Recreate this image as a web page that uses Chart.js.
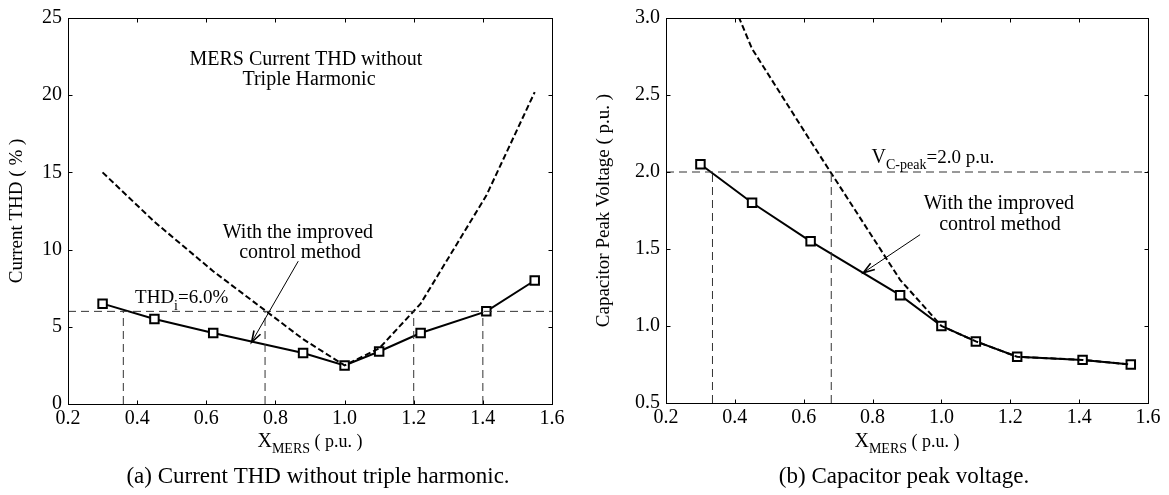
<!DOCTYPE html>
<html lang="en">
<head>
<meta charset="UTF-8">
<title>MERS current THD and capacitor peak voltage</title>
<script src="https://cdn.jsdelivr.net/npm/chart.js"></script>
<style>
  body { margin: 0; background: #fff; }
  #wrapA { position: absolute; left: 0; top: 0; width: 580px; height: 495px; }
  #wrapB { position: absolute; left: 580px; top: 0; width: 589px; height: 495px; }
</style>
</head>
<body>
<div id="wrapA"><canvas id="thdChart" width="580" height="495"></canvas></div>
<div id="wrapB"><canvas id="vcChart" width="589" height="495"></canvas></div>
<script>
// X_MERS of the simulated points (p.u.)
const xMers = [0.3, 0.45, 0.62, 0.88, 1.0, 1.1, 1.22, 1.41, 1.55];

// (a) current THD in %
const thdImproved = [6.5, 5.5, 4.6, 3.3, 2.5, 3.4, 4.6, 6.0, 8.0];
const thdOriginal = [15.0, 11.8, 8.6, 4.2, 2.5, 3.6, 6.5, 13.5, 20.2];
const thdLimit = 6.0;
const thdCrossX = [0.36, 0.77, 1.2, 1.4];

// (b) capacitor peak voltage in p.u.
const vcImproved = [2.05, 1.8, 1.55, 1.2, 1.0, 0.9, 0.8, 0.78, 0.75];
const vcOriginal = [3.6, 2.8, 2.2, 1.3, 1.0, 0.9, 0.8, 0.78, 0.75];
const vcLimit = 2.0;
const vcCrossX = [0.335, 0.68];

// tick labels
const xTickLabels = ['0.2', '0.4', '0.6', '0.8', '1.0', '1.2', '1.4', '1.6'];
const thdTickLabels = ['0', '5', '10', '15', '20', '25'];
const vcTickLabels = ['0.5', '1.0', '1.5', '2.0', '2.5', '3.0'];

const serif = '"Liberation Serif", "Times New Roman", serif';

function pairs(xs, ys) {
  return xs.map((x, i) => ({ x: x, y: ys[i] }));
}

// text made of pieces, so subscripts can be written
function drawRich(ctx, parts, x, y, align) {
  let w = 0;
  parts.forEach(p => {
    ctx.font = p.size + 'px ' + serif;
    p.w = ctx.measureText(p.t).width;
    w += p.w;
  });
  let cx = align === 'center' ? x - w / 2 : x;
  ctx.textAlign = 'left';
  ctx.textBaseline = 'alphabetic';
  parts.forEach(p => {
    ctx.font = p.size + 'px ' + serif;
    ctx.fillText(p.t, cx, y + (p.dy || 0));
    cx += p.w;
  });
}

function drawArrow(ctx, x1, y1, x2, y2) {
  const ang = Math.atan2(y2 - y1, x2 - x1);
  const len = 12, spread = 0.32;
  ctx.lineWidth = 1;
  ctx.beginPath();
  ctx.moveTo(x1, y1);
  ctx.lineTo(x2, y2);
  ctx.stroke();
  ctx.lineWidth = 1.6;
  ctx.beginPath();
  ctx.moveTo(x2 - len * Math.cos(ang - spread), y2 - len * Math.sin(ang - spread));
  ctx.lineTo(x2, y2);
  ctx.lineTo(x2 - len * Math.cos(ang + spread), y2 - len * Math.sin(ang + spread));
  ctx.stroke();
}

// box, inward ticks, notes, x title and caption
const paperDeco = {
  id: 'paperDeco',
  afterDraw(chart, args, opts) {
    const { ctx, chartArea: a, scales: { x, y } } = chart;
    ctx.save();
    ctx.strokeStyle = '#000';
    ctx.fillStyle = '#000';
    ctx.lineWidth = 1;
    ctx.setLineDash([]);
    const L = Math.round(a.left) + 0.5, T = Math.round(a.top) + 0.5;
    const R = Math.round(a.right) + 0.5, B = Math.round(a.bottom) + 0.5;
    ctx.strokeRect(L, T, R - L, B - T);

    const tl = 4;
    ctx.beginPath();
    x.ticks.forEach(tk => {
      const px = Math.round(x.getPixelForValue(tk.value)) + 0.5;
      ctx.moveTo(px, B); ctx.lineTo(px, B - tl);
      ctx.moveTo(px, T); ctx.lineTo(px, T + tl);
    });
    y.ticks.forEach(tk => {
      const py = Math.round(y.getPixelForValue(tk.value)) + 0.5;
      ctx.moveTo(L, py); ctx.lineTo(L + tl, py);
      ctx.moveTo(R, py); ctx.lineTo(R - tl, py);
    });
    ctx.stroke();

    opts.notes.forEach(n => {
      drawRich(ctx, n.parts, x.getPixelForValue(n.x), y.getPixelForValue(n.y), n.align);
    });
    opts.arrows.forEach(ar => {
      drawArrow(ctx, x.getPixelForValue(ar[0]), y.getPixelForValue(ar[1]),
        x.getPixelForValue(ar[2]), y.getPixelForValue(ar[3]));
    });

    drawRich(ctx, [
      { t: 'X', size: 20 },
      { t: 'MERS', size: 14, dy: 6 },
      { t: ' ( p.u. )', size: 18 }
    ], (a.left + a.right) / 2, 447, 'center');
    drawRich(ctx, [{ t: opts.caption, size: 23 }], opts.captionX, 483, 'center');
    ctx.restore();
  }
};

function refLines(crossX, limit, yMin) {
  const style = {
    borderColor: '#333', borderWidth: 1, borderDash: [8, 5],
    pointRadius: 0, fill: false
  };
  const xMin = parseFloat(xTickLabels[0]);
  const xMax = parseFloat(xTickLabels[xTickLabels.length - 1]);
  const sets = [Object.assign({ data: [{ x: xMin, y: limit }, { x: xMax, y: limit }] }, style)];
  crossX.forEach(cx => {
    sets.push(Object.assign({ data: [{ x: cx, y: yMin }, { x: cx, y: limit }] }, style));
  });
  return sets;
}

function buildChart(id, o) {
  const yVals = o.yLabels.map(v => parseFloat(v));
  return new Chart(document.getElementById(id), {
    type: 'line',
    data: {
      datasets: refLines(o.crossX, o.limit, yVals[0]).concat([
        {
          data: pairs(xMers, o.original),
          borderColor: '#000', borderWidth: 2, borderDash: [6, 3],
          pointRadius: 0, fill: false
        },
        {
          data: pairs(xMers, o.improved),
          borderColor: '#000', borderWidth: 2, fill: false,
          pointStyle: 'rect', pointRadius: 6,
          pointBackgroundColor: '#fff', pointBorderColor: '#000', pointBorderWidth: 2
        }
      ])
    },
    options: {
      responsive: false,
      animation: false,
      devicePixelRatio: 1,
      layout: { padding: o.padding },
      plugins: {
        legend: { display: false },
        tooltip: { enabled: false },
        paperDeco: { notes: o.notes, arrows: o.arrows, caption: o.caption, captionX: o.captionX }
      },
      scales: {
        x: {
          type: 'linear',
          min: parseFloat(xTickLabels[0]),
          max: parseFloat(xTickLabels[xTickLabels.length - 1]),
          grid: { display: false, drawTicks: false },
          border: { display: false },
          afterBuildTicks: s => { s.ticks = xTickLabels.map(v => ({ value: parseFloat(v) })); },
          afterFit: s => { s.height = 30; },
          ticks: {
            padding: 3, color: '#000', maxRotation: 0, autoSkip: false,
            font: { family: serif, size: 20 },
            callback: (v, i) => xTickLabels[i]
          }
        },
        y: {
          type: 'linear',
          min: yVals[0],
          max: yVals[yVals.length - 1],
          grid: { display: false, drawTicks: false },
          border: { display: false },
          afterBuildTicks: s => { s.ticks = yVals.map(v => ({ value: v })); },
          afterFit: s => { s.width = o.yWidth; },
          ticks: {
            padding: 6, color: '#000', autoSkip: false,
            font: { family: serif, size: 20 },
            callback: (v, i) => o.yLabels[i]
          },
          title: {
            display: true, text: o.yTitle, color: '#000',
            font: { family: serif, size: 19 },
            padding: { top: o.yTitlePad, bottom: 0 }
          }
        }
      }
    },
    plugins: [paperDeco]
  });
}

buildChart('thdChart', {
  improved: thdImproved,
  original: thdOriginal,
  limit: thdLimit,
  crossX: thdCrossX,
  yLabels: thdTickLabels,
  yTitle: 'Current THD ( % )',
  yWidth: 68,
  yTitlePad: 6,
  padding: { left: 0, top: 15, right: 28, bottom: 61 },
  caption: '(a) Current THD without triple harmonic.',
  captionX: 318,
  notes: [
    { parts: [{ t: 'MERS Current THD without', size: 20 }], x: 0.888, y: 21.93, align: 'center' },
    { parts: [{ t: 'Triple Harmonic', size: 20 }], x: 0.897, y: 20.65, align: 'center' },
    { parts: [{ t: 'With the improved', size: 20 }], x: 0.865, y: 10.75, align: 'center' },
    { parts: [{ t: 'control method', size: 20 }], x: 0.871, y: 9.47, align: 'center' },
    { parts: [{ t: 'THD', size: 19 }, { t: 'i', size: 14, dy: 7 }, { t: '=6.0%', size: 19 }], x: 0.394, y: 6.57, align: 'left' }
  ],
  arrows: [[0.866, 9.25, 0.731, 4.0]]
});

buildChart('vcChart', {
  improved: vcImproved,
  original: vcOriginal,
  limit: vcLimit,
  crossX: vcCrossX,
  yLabels: vcTickLabels,
  yTitle: 'Capacitor Peak Voltage ( p.u. )',
  yWidth: 78,
  yTitlePad: 5,
  padding: { left: 8, top: 15, right: 21, bottom: 62 },
  caption: '(b) Capacitor peak voltage.',
  captionX: 324,
  notes: [
    { parts: [{ t: 'V', size: 20 }, { t: 'C-peak', size: 14, dy: 6 }, { t: '=2.0 p.u.', size: 19 }], x: 0.797, y: 2.06, align: 'left' },
    { parts: [{ t: 'With the improved', size: 20 }], x: 1.167, y: 1.76, align: 'center' },
    { parts: [{ t: 'control method', size: 20 }], x: 1.170, y: 1.625, align: 'center' }
  ],
  arrows: [[0.938, 1.593, 0.773, 1.346]]
});
</script>
</body>
</html>
